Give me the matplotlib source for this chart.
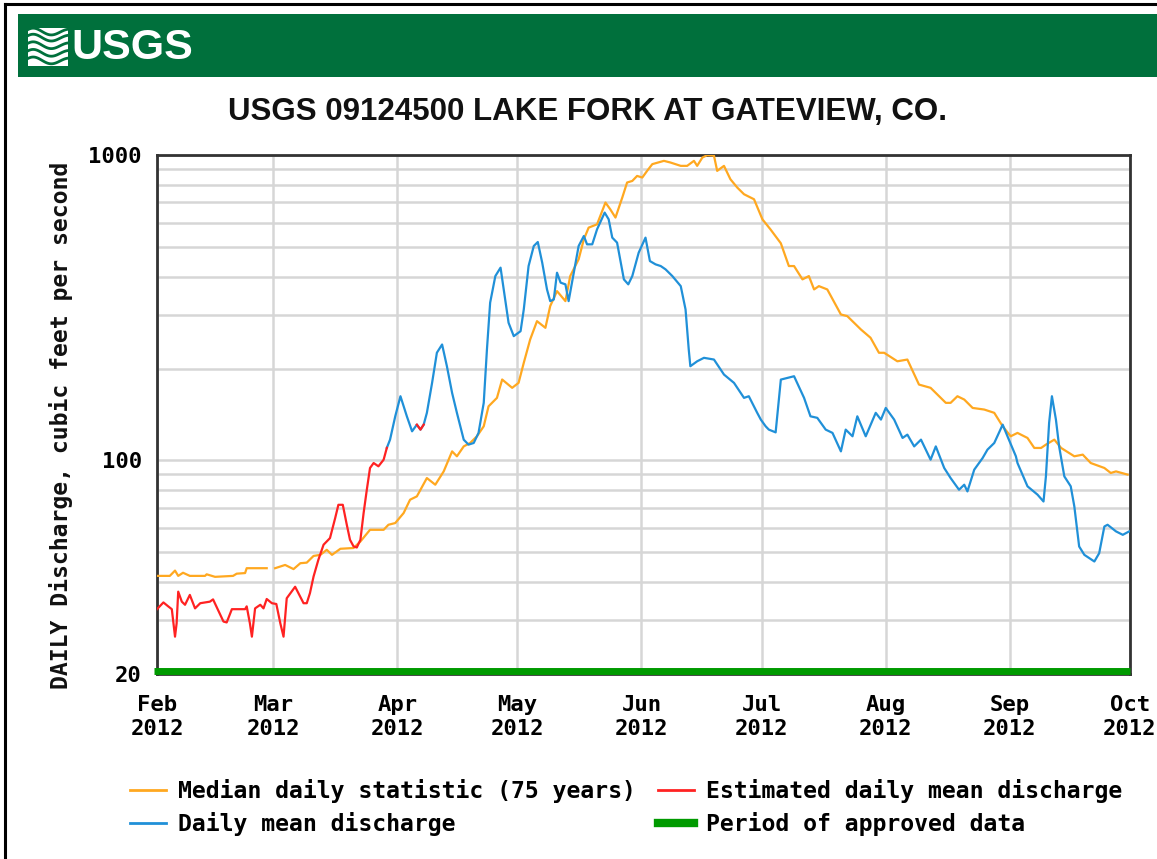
import numpy as np
import matplotlib
matplotlib.use("Agg")
import matplotlib.pyplot as plt
from matplotlib.lines import Line2D
from matplotlib.patches import Rectangle
from matplotlib.ticker import FixedLocator, NullFormatter, FixedFormatter

# ---------------- data (days since 2012-02-01, discharge cfs) ----------------
start = np.datetime64('2012-02-01')

median_days = [0, 3.2, 4.5, 5.3, 6.5, 8.2, 12, 12.4, 14.5, 19, 19.9, 22, 22.4, 27.4, 28, 29.5, 32, 34.1,
               35.8, 37.4, 39.1, 40.8, 42.4, 43.7, 45.8, 49.1, 50.8, 53.2, 56.6, 57.8, 59.5, 61.6, 63.2,
               64.9, 67.4, 69.5, 71.6, 73.7, 74.9, 76.6, 78.2, 79.9, 81.6, 82.8, 84.9, 86.2, 88.7, 90.3,
               91.6, 93.2, 94.9, 97, 98.2, 99.9, 102, 103.2, 105.3, 106.6, 107.8, 109.9, 112, 113.2,
               114.5, 116.2, 117.4, 118.7, 119.9, 121.2, 122.4, 123.7, 126.6, 128.2, 130.8, 132.4, 134.1,
               134.9, 136.2, 137.4, 139.1, 139.9, 141.6, 143.2, 144.9, 146.6, 149.1, 151.2, 153.2, 155.8,
               157.8, 159.1, 161.2, 162.8, 164.1, 165.3, 167.4, 170.8, 172.4, 175.8, 178.2, 180.3, 181.6,
               184.9, 187.4, 190.3, 193.2, 197, 198.2, 199.9, 201.6, 203.7, 206.6, 209.1, 211.2, 213.2,
               214.9, 217.4, 219.1, 220.8, 222, 224.1, 225.8, 229.1, 231.2, 233.2, 236.6, 238.2, 239.5,
               242.4]
median_vals = [41.9, 41.9, 43.6, 41.9, 42.9, 41.9, 41.9, 42.4, 41.6, 41.9, 42.6, 42.8, 44.4, 44.4, np.nan,
               44.4, 45.5, 44.1, 46.1, 46.3, 48.7, 49.1, 51, 49.1, 51.4, 51.7, 54.3, 59.3, 59.3, 61.6,
               62.4, 67.3, 74.4, 76.3, 87.6, 83.3, 92.1, 107.1, 103.2, 111.2, 114.1, 120, 129.4, 150.4,
               160.3, 184.1, 172.9, 179.5, 208.8, 249, 285.8, 271.8, 320.2, 358.4, 332.4, 401.5, 455.6,
               529.6, 578.4, 593, 698.8, 664, 624, 725.6, 812.6, 822.4, 854, 843.8, 887.2, 933.4, 956.8,
               945.2, 921.4, 921.4, 956.8, 921.4, 981, 998.6, 995, 887.2, 921.4, 833.2, 782.8, 744, 716.4,
               615.8, 571, 514, 433, 433, 391.6, 401.5, 363, 372.2, 363, 300.6, 296.8, 268.4, 252.2,
               225.2, 225.2, 211.2, 214, 177.2, 172.9, 154.4, 154.4, 162.3, 158.3, 148.6, 146.8, 143.2,
               129.4, 120, 123.1, 118.5, 109.9, 109.9, 112.7, 117, 109.9, 103.2, 104.5, 98.1, 94.5, 91,
               92.1, 89.9]

est_days = [0, 1.6, 2.8, 3.7, 4.5, 4.9, 5.3, 6.2, 7, 8.2, 9.5, 10.8, 13.2, 14, 16.6, 17.4, 18.7, 22, 22.4,
            23.2, 23.7, 24.5, 25.8, 26.6, 27.4, 28.7, 29.8, 30.8, 31.6, 32.4, 34.5, 36.6, 37.4, 38.2,
            39.1, 40.3, 41.6, 43.2, 44.5, 45.3, 46.4, 47.4, 48.2, 49.1, 49.9, 50.8, 51.6, 52.4, 53.2,
            54.1, 55.3, 56.6, 57.4]
est_vals = [32.6, 34.3, 33.3, 32.6, 26.5, 29.3, 37.2, 34.5, 33.7, 36.3, 32.8, 34.1, 34.5, 35.1, 29.7, 29.5,
            32.6, 32.6, 33.3, 29.3, 26.5, 32.8, 33.7, 32.8, 35.2, 34.1, 33.9, 29.3, 26.5, 35.4, 38.6,
            34.1, 34.1, 36.8, 41.7, 47.3, 53, 55.7, 64.8, 71.6, 71.6, 61.6, 55, 52.3, 51.9, 55, 67.3,
            80.2, 94.5, 98.1, 95.7, 100.6, 110]
est2_days = [64.9, 65.8, 66.6]
est2_vals = [131, 126.2, 131]

daily_days = [57.4, 58.2, 59.5, 60.8, 62.4, 63.7, 64.9, 65.8, 66.6, 67.4, 68.7, 69.9, 71.2, 72.4, 73.7,
              74.9, 76.6, 77.8, 79.1, 80.3, 81.6, 82.4, 83.2, 84.5, 85.8, 86.6, 87.8, 89.1, 90.8, 91.6,
              92.8, 94.1, 95.1, 96.2, 97.4, 98.2, 99.1, 99.9, 100.8, 102, 102.8, 104.1, 105.3, 106.6,
              107.4, 108.7, 109.9, 111.8, 112.8, 113.7, 114.9, 116.6, 117.7, 118.7, 120.3, 122, 123.1,
              124.5, 125.8, 127, 128.7, 130.8, 132, 132.8, 133.2, 134.9, 136.6, 139.1, 141.6, 144.1,
              146.6, 147.8, 149.9, 150.8, 152, 152.8, 154.5, 155.8, 159.1, 161.6, 163.2, 164.9, 167,
              168.7, 170.8, 172, 173.7, 174.9, 177, 179.5, 180.8, 182, 184.1, 186.2, 187.4, 189.1, 190.8,
              193.2, 194.5, 196.6, 198.2, 200.3, 201.6, 202.4, 204.1, 206.2, 207.4, 209.1, 211.2, 212.4,
              214.5, 214.9, 217.4, 219.9, 221.4, 222, 222.8, 223.5, 224.5, 225.3, 226.6, 228.2, 229.1,
              230.3, 231.6, 234.1, 235.3, 236.6, 237.4, 239.5, 241.2, 242.8]
daily_vals = [110, 117, 139.5, 162.3, 139.5, 124.6, 131, 126.2, 131, 143.2, 179.5, 225.3, 239.7, 203.5,
              166.4, 143.2, 117, 112.7, 114.1, 123.1, 154.4, 230.8, 328.5, 401.5, 427.8, 363, 282.4,
              255.3, 265, 312.2, 433, 503.6, 519, 444.4, 363, 332.4, 336.6, 411.8, 382, 377.2, 332.4,
              411.8, 503.6, 543, 510, 510, 571, 647.8, 615.8, 536.4, 516.6, 391.6, 377.2, 401.5, 479,
              536.4, 449.6, 438.6, 433, 422.4, 401.5, 372.2, 312.2, 230.8, 203.5, 211.2, 216.8, 214,
              191.1, 179.5, 160.3, 162.3, 143.2, 136.1, 129.4, 126.2, 123.6, 184, 188.7, 160.3, 139.5,
              137.9, 126.2, 123.1, 107.1, 126.2, 120, 139.5, 120, 143.2, 136.1, 148.6, 136.1, 118.5,
              121.5, 111.2, 117, 100.6, 111.2, 94.5, 87.6, 80.2, 83.3, 79.2, 93.3, 101.9, 108.5, 114.1,
              131, 120, 103.2, 98.1, 82.3, 77.3, 73.4, 88.7, 132.7, 162.3, 136.1, 111.2, 88.7, 82.3,
              70.7, 52.3, 49.1, 46.7, 49.7, 60.8, 61.6, 58.6, 57.1, 58.6]

month_starts = ['2012-02-01', '2012-03-01', '2012-04-01', '2012-05-01', '2012-06-01',
                '2012-07-01', '2012-08-01', '2012-09-01', '2012-10-01']
month_labels = ['Feb\n2012', 'Mar\n2012', 'Apr\n2012', 'May\n2012', 'Jun\n2012',
                'Jul\n2012', 'Aug\n2012', 'Sep\n2012', 'Oct\n2012']
y_major = [20, 100, 1000]
y_major_labels = ['20', '100', '1000']
y_minor = [30, 40, 50, 60, 70, 80, 90, 200, 300, 400, 500, 600, 700, 800, 900]

title = 'USGS 09124500 LAKE FORK AT GATEVIEW, CO.'
ylabel = 'DAILY Discharge, cubic feet per second'
legend_labels = ['Median daily statistic (75 years)', 'Daily mean discharge',
                 'Estimated daily mean discharge', 'Period of approved data']

# ---------------- styles ----------------
C_MED = '#FFA820'
C_DAILY = '#2090D8'
C_EST = '#FF2222'
C_APPR = '#009A00'
C_GRID = '#D6D6D6'
C_BANNER = '#00703C'
MONO = ['DejaVu Sans Mono']
SANS = ['Liberation Sans', 'DejaVu Sans']

W, H = 1157, 859
fig = plt.figure(figsize=(W / 100, H / 100), dpi=100)
fig.patch.set_facecolor('white')

def fx(x):
    return x / W

def fy(y):
    return 1 - y / H

# outer frame (top and left edges)
fig.add_artist(Line2D([fx(5), 1], [fy(4), fy(4)], color='black', lw=2.2))
fig.add_artist(Line2D([fx(5), fx(5)], [fy(4), 0], color='black', lw=2.2))

# banner
banner = Rectangle((fx(18), fy(77)), 1 - fx(18), 63 / H, transform=fig.transFigure,
                   facecolor=C_BANNER, edgecolor='none', zorder=-5)
fig.add_artist(banner)
# logo icon
iax = fig.add_axes([fx(28), fy(66), 40 / W, 38 / H], zorder=5)
iax.set_xlim(0, 1)
iax.set_ylim(0, 1)
iax.axis('off')
iax.add_patch(Rectangle((0, 0), 1, 1, facecolor='white', edgecolor='none'))
tt = np.linspace(0, 1, 60)
for c in [0.14, 0.34, 0.54, 0.74, 0.9]:
    iax.plot(tt, c + 0.1 * np.sin(2 * np.pi * (tt * 1.1 + 0.1)) * (1 - 0.3 * tt),
             color=C_BANNER, lw=2.0)
fig.text(fx(71), fy(48), 'USGS', color='white', fontsize=31, fontweight='bold',
         family=SANS, ha='left', va='center', zorder=6)

# title
fig.text(fx(587), fy(112), title, fontsize=22.5, fontweight='bold', family=SANS,
         ha='center', va='center', color='#111111')

# ---------------- main axes ----------------
ax = fig.add_axes([fx(157), fy(674), 973 / W, 519 / H])
md = (np.array(month_starts, dtype='datetime64[D]') - start).astype(int)

ax.set_yscale('log')
ax.set_ylim(20, 1000)
ax.set_xlim(md[0], md[-1])

ax.yaxis.set_major_locator(FixedLocator(y_major))
ax.yaxis.set_major_formatter(FixedFormatter(y_major_labels))
ax.yaxis.set_minor_locator(FixedLocator(y_minor))
ax.yaxis.set_minor_formatter(NullFormatter())
ax.set_xticks(md)
ax.set_xticklabels(month_labels)

ax.grid(True, which='both', axis='y', color=C_GRID, lw=1.8, zorder=0)
ax.grid(True, which='major', axis='x', color=C_GRID, lw=1.8, zorder=0)
ax.set_axisbelow(True)
ax.tick_params(axis='both', which='both', length=0)
ax.tick_params(axis='y', pad=11)
ax.tick_params(axis='x', pad=15)
for lab in ax.get_xticklabels() + ax.get_yticklabels():
    lab.set_family(MONO)
    lab.set_fontweight('bold')
    lab.set_fontsize(16)
    lab.set_linespacing(1.28)
for sp in ax.spines.values():
    sp.set_color('#333333')
    sp.set_linewidth(2)

ax.plot(median_days, median_vals, color=C_MED, lw=1.6, zorder=3)
ax.plot(daily_days, daily_vals, color=C_DAILY, lw=1.6, zorder=4)
ax.plot(est_days, est_vals, color=C_EST, lw=1.6, zorder=5)
ax.plot(est2_days, est2_vals, color=C_EST, lw=1.6, zorder=5)
ax.plot([md[0] - 0.7, md[-1]], [20.4, 20.4], color=C_APPR, lw=5, solid_capstyle='butt',
        clip_on=False, zorder=6)

fig.text(fx(61), fy(425), ylabel, rotation=90, family=MONO, fontweight='bold', fontsize=16.7,
         ha='center', va='center', color='#111111')

# ---------------- legend ----------------
h_med = Line2D([], [], color=C_MED, lw=2)
h_daily = Line2D([], [], color=C_DAILY, lw=2)
h_est = Line2D([], [], color=C_EST, lw=2)
h_appr = Line2D([], [], color=C_APPR, lw=6)
prop = {'family': MONO, 'weight': 'bold', 'size': 16.7}
leg1 = fig.legend([h_med, h_daily], legend_labels[:2], loc='upper left',
                  bbox_to_anchor=(fx(121), fy(770)), frameon=False, prop=prop,
                  handlelength=1.55, handletextpad=0.5, labelspacing=0.36, borderaxespad=0)
leg2 = fig.legend([h_est, h_appr], legend_labels[2:], loc='upper left',
                  bbox_to_anchor=(fx(649), fy(770)), frameon=False, prop=prop,
                  handlelength=1.55, handletextpad=0.5, labelspacing=0.36, borderaxespad=0)

fig.savefig('out.png', dpi=100)
